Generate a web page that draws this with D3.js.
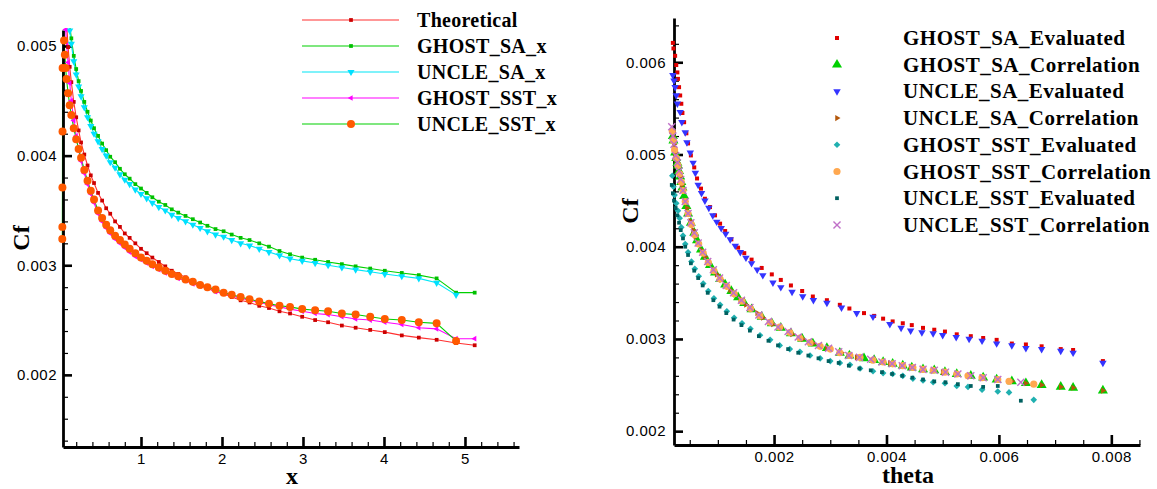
<!doctype html>
<html>
<head>
<meta charset="utf-8">
<title>Cf comparison</title>
<style>
  body { margin: 0; background: #fff; }
  .tick text { font-family: "Liberation Sans", Arial, sans-serif; font-size: 15px; letter-spacing: 0.5px; fill: #000; }
  .title { font-family: "Liberation Serif", "Times New Roman", serif; font-weight: bold; font-size: 24px; fill: #000; }
  .legend text { font-family: "Liberation Serif", "Times New Roman", serif; font-weight: bold; fill: #000; }
</style>
</head>
<body>
<svg id="chart" width="1157" height="489"></svg>
<script src="https://d3js.org/d3.v7.min.js"></script>
<script>
// ---------- left chart: Cf vs x ----------
const xStations = [
  0.04, 0.05, 0.06, 0.07, 0.08,
  0.1, 0.12, 0.14, 0.17, 0.2,
  0.23, 0.26, 0.3, 0.34, 0.38,
  0.42, 0.47, 0.52, 0.57, 0.62,
  0.68, 0.74, 0.8, 0.86, 0.93,
  1.0, 1.07, 1.14, 1.22, 1.3,
  1.38, 1.46, 1.55, 1.64, 1.73,
  1.82, 1.92, 2.02, 2.12, 2.23,
  2.34, 2.46, 2.58, 2.71, 2.84,
  2.99, 3.15, 3.31, 3.48, 3.65,
  3.83, 4.01, 4.22, 4.43, 4.65,
  4.89, 5.12];

const cfTheory = [
  0.00600, 0.00574, 0.00553, 0.00536, 0.00522,
  0.00499, 0.00481, 0.00467, 0.00449, 0.00435,
  0.00423, 0.00412, 0.00401, 0.00391, 0.00382,
  0.00375, 0.00366, 0.00359, 0.00352, 0.00347,
  0.00340, 0.00335, 0.00329, 0.00325, 0.00320,
  0.00315, 0.00311, 0.00307, 0.00303, 0.00299,
  0.00295, 0.00292, 0.00289, 0.00285, 0.00282,
  0.00279, 0.00276, 0.00274, 0.00271, 0.00268,
  0.00266, 0.00263, 0.00261, 0.00258, 0.00256,
  0.00253, 0.00250, 0.00248, 0.00245, 0.00243,
  0.00241, 0.00239, 0.00236, 0.00234, 0.00232,
  0.00229, 0.00227];

const cfGhostSA = [
  null, null, null, null, null,
  0.00530, 0.00519, 0.00507, 0.00491, 0.00479,
  0.00468, 0.00459, 0.00449, 0.00440, 0.00432,
  0.00425, 0.00418, 0.00411, 0.00405, 0.00399,
  0.00394, 0.00388, 0.00383, 0.00379, 0.00374,
  0.00370, 0.00366, 0.00362, 0.00358, 0.00355,
  0.00351, 0.00348, 0.00345, 0.00342, 0.00339,
  0.00336, 0.00333, 0.00331, 0.00328, 0.00325,
  0.00323, 0.00320, 0.00317, 0.00313, 0.00310,
  0.00307, 0.00305, 0.00303, 0.00301, 0.00299,
  0.00297, 0.00295, 0.00293, 0.00291, 0.00288,
  0.00275, 0.00275];

const cfUncleSA = [
  null, null, null, null, null,
  0.00522, 0.00514, 0.00502, 0.00486, 0.00474,
  0.00463, 0.00454, 0.00444, 0.00435, 0.00427,
  0.00420, 0.00413, 0.00406, 0.00400, 0.00394,
  0.00389, 0.00383, 0.00378, 0.00374, 0.00369,
  0.00365, 0.00361, 0.00357, 0.00353, 0.00350,
  0.00346, 0.00343, 0.00340, 0.00337, 0.00334,
  0.00331, 0.00328, 0.00326, 0.00323, 0.00320,
  0.00318, 0.00315, 0.00312, 0.00309, 0.00306,
  0.00304, 0.00302, 0.00300, 0.00298, 0.00296,
  0.00294, 0.00292, 0.00290, 0.00288, 0.00284,
  0.00273, null];

const cfGhostSST = [
  0.00560, 0.00545, 0.00530, 0.00515, 0.00503,
  0.00485, 0.00466, 0.00450, 0.00432, 0.00418,
  0.00405, 0.00395, 0.00384, 0.00374, 0.00365,
  0.00357, 0.00347, 0.00340, 0.00334, 0.00329,
  0.00324, 0.00320, 0.00316, 0.00312, 0.00308,
  0.00305, 0.00302, 0.00299, 0.00296, 0.00293,
  0.00291, 0.00288, 0.00286, 0.00283, 0.00281,
  0.00279, 0.00276, 0.00274, 0.00272, 0.00270,
  0.00268, 0.00266, 0.00264, 0.00262, 0.00260,
  0.00258, 0.00256, 0.00255, 0.00253, 0.00251,
  0.00250, 0.00248, 0.00246, 0.00243, 0.00242,
  0.00233, 0.00233];

// UNCLE SST has a few leading-edge points sitting on the axis
const xUncleSST = [
  0.028, 0.029, 0.030, 0.031, 0.032,
  0.05, 0.06, 0.07, 0.08, 0.1,
  0.12, 0.14, 0.17, 0.2, 0.23,
  0.26, 0.3, 0.34, 0.38, 0.42,
  0.47, 0.52, 0.57, 0.62, 0.68,
  0.74, 0.8, 0.86, 0.93, 1.0,
  1.07, 1.14, 1.22, 1.3, 1.38,
  1.46, 1.55, 1.64, 1.73, 1.82,
  1.92, 2.02, 2.12, 2.23, 2.34,
  2.46, 2.58, 2.71, 2.84, 2.99,
  3.15, 3.31, 3.48, 3.65, 3.83,
  4.01, 4.22, 4.43, 4.65, 4.89];
const cfUncleSST = [
  0.00324, 0.00335, 0.00371, 0.00422, 0.00480,
  0.00505, 0.00492, 0.00480, 0.00470, 0.00457,
  0.00446, 0.00437, 0.00425, 0.00415, 0.00406,
  0.00398, 0.00387, 0.00377, 0.00368, 0.00360,
  0.00350, 0.00343, 0.00337, 0.00332, 0.00327,
  0.00323, 0.00319, 0.00315, 0.00311, 0.00307,
  0.00304, 0.00301, 0.00298, 0.00295, 0.00292,
  0.00290, 0.00287, 0.00285, 0.00282, 0.00280,
  0.00278, 0.00275, 0.00273, 0.00271, 0.00269,
  0.00267, 0.00265, 0.00263, 0.00262, 0.00260,
  0.00259, 0.00258, 0.00256, 0.00255, 0.00253,
  0.00251, 0.00250, 0.00248, 0.00247, 0.00231];

const leftNames = ['Theoretical', 'GHOST_SA_x', 'UNCLE_SA_x', 'GHOST_SST_x', 'UNCLE_SST_x'];

// ---------- right chart: Cf vs theta ----------
const thetaGhostSA = [
  0.00020, 0.00021, 0.00024, 0.00026, 0.00028, 0.00029, 0.00031, 0.00033, 0.00035, 0.00037,
  0.00040, 0.00044, 0.00047, 0.00052, 0.00058, 0.00063, 0.00070, 0.00077, 0.00086, 0.00095,
  0.00104, 0.00113, 0.00124, 0.00136, 0.00147, 0.00160, 0.00178, 0.00196, 0.00212, 0.00230,
  0.00250, 0.00269, 0.00294, 0.00317, 0.00334, 0.00360, 0.00378, 0.00394, 0.00411, 0.00429,
  0.00445, 0.00465, 0.00485, 0.00504, 0.00525, 0.00550, 0.00572, 0.00596, 0.00623, 0.00648,
  0.00676, 0.00710, 0.00732, 0.00785];
const cfGhostSAEval = [
  0.00621, 0.00615, 0.00607, 0.00597, 0.00589, 0.00582, 0.00573, 0.00564, 0.00555, 0.00545,
  0.00535, 0.00523, 0.00512, 0.00499, 0.00486, 0.00474, 0.00463, 0.00452, 0.00443, 0.00434,
  0.00425, 0.00417, 0.00408, 0.00399, 0.00393, 0.00386, 0.00377, 0.00370, 0.00364, 0.00358,
  0.00352, 0.00346, 0.00342, 0.00337, 0.00333, 0.00328, 0.00325, 0.00322, 0.00319, 0.00317,
  0.00315, 0.00312, 0.00310, 0.00308, 0.00305, 0.00303, 0.00301, 0.00299, 0.00295, 0.00294,
  0.00292, 0.00289, 0.00288, 0.00276];
const cfGhostSACorr = [
  0.00520, 0.00515, 0.00502, 0.00496, 0.00491, 0.00488, 0.00482, 0.00476, 0.00470, 0.00464,
  0.00455, 0.00444, 0.00436, 0.00426, 0.00415, 0.00407, 0.00397, 0.00389, 0.00380, 0.00372,
  0.00365, 0.00359, 0.00352, 0.00345, 0.00339, 0.00332, 0.00324, 0.00317, 0.00312, 0.00306,
  0.00300, 0.00295, 0.00290, 0.00285, 0.00282, 0.00279, 0.00277, 0.00275, 0.00273, 0.00271,
  0.00269, 0.00267, 0.00266, 0.00264, 0.00262, 0.00260, 0.00258, 0.00256, 0.00254, 0.00252,
  0.00250, 0.00248, 0.00247, 0.00244];

const thetaUncleSA = [
  0.00020, 0.00022, 0.00024, 0.00026, 0.00028, 0.00033, 0.00036, 0.00042, 0.00045, 0.00051,
  0.00056, 0.00060, 0.00065, 0.00071, 0.00077, 0.00084, 0.00091, 0.00098, 0.00106, 0.00114,
  0.00122, 0.00131, 0.00140, 0.00150, 0.00160, 0.00170, 0.00180, 0.00198, 0.00212, 0.00232,
  0.00251, 0.00270, 0.00294, 0.00320, 0.00347, 0.00376, 0.00406, 0.00426, 0.00443, 0.00463,
  0.00483, 0.00500, 0.00524, 0.00547, 0.00570, 0.00596, 0.00623, 0.00648, 0.00676, 0.00710,
  0.00732, 0.00785];
const cfUncleSAEval = [
  0.00586, 0.00580, 0.00573, 0.00564, 0.00555, 0.00546, 0.00535, 0.00524, 0.00513, 0.00502,
  0.00491, 0.00480, 0.00467, 0.00458, 0.00450, 0.00442, 0.00434, 0.00427, 0.00420, 0.00414,
  0.00408, 0.00401, 0.00394, 0.00388, 0.00382, 0.00375, 0.00369, 0.00361, 0.00356, 0.00351,
  0.00346, 0.00342, 0.00339, 0.00334, 0.00328, 0.00324, 0.00316, 0.00312, 0.00309, 0.00307,
  0.00306, 0.00304, 0.00302, 0.00300, 0.00298, 0.00295, 0.00293, 0.00290, 0.00289, 0.00287,
  0.00285, 0.00274];
const cfUncleSACorr = [
  0.00520, 0.00511, 0.00502, 0.00496, 0.00491, 0.00476, 0.00467, 0.00449, 0.00442, 0.00428,
  0.00418, 0.00411, 0.00404, 0.00396, 0.00389, 0.00382, 0.00375, 0.00370, 0.00364, 0.00358,
  0.00353, 0.00348, 0.00343, 0.00337, 0.00332, 0.00328, 0.00323, 0.00316, 0.00312, 0.00305,
  0.00300, 0.00295, 0.00290, 0.00285, 0.00280, 0.00277, 0.00274, 0.00271, 0.00269, 0.00268,
  0.00266, 0.00264, 0.00262, 0.00260, 0.00258, 0.00256, 0.00254, 0.00252, 0.00250, 0.00248,
  0.00247, 0.00244];

const thetaGhostSST = [
  0.00019, 0.00021, 0.00023, 0.00026, 0.00029, 0.00032, 0.00035, 0.00038, 0.00042, 0.00047,
  0.00053, 0.00059, 0.00066, 0.00074, 0.00083, 0.00093, 0.00104, 0.00116, 0.00129, 0.00143,
  0.00158, 0.00175, 0.00193, 0.00210, 0.00228, 0.00246, 0.00264, 0.00282, 0.00300, 0.00317,
  0.00335, 0.00353, 0.00376, 0.00394, 0.00411, 0.00429, 0.00447, 0.00465, 0.00483, 0.00504,
  0.00525, 0.00545, 0.00570, 0.00598, 0.00618, 0.00662];
const cfGhostSSTEval = [
  0.00477, 0.00465, 0.00456, 0.00447, 0.00439, 0.00431, 0.00421, 0.00412, 0.00403, 0.00394,
  0.00384, 0.00376, 0.00368, 0.00360, 0.00352, 0.00344, 0.00337, 0.00330, 0.00323, 0.00317,
  0.00311, 0.00304, 0.00299, 0.00293, 0.00289, 0.00286, 0.00282, 0.00279, 0.00276, 0.00274,
  0.00272, 0.00268, 0.00265, 0.00263, 0.00262, 0.00260, 0.00257, 0.00255, 0.00253, 0.00252,
  0.00249, 0.00248, 0.00245, 0.00243, 0.00242, 0.00234];
const cfGhostSSTCorr = [
  0.00525, 0.00515, 0.00505, 0.00496, 0.00488, 0.00479, 0.00470, 0.00461, 0.00449, 0.00436,
  0.00424, 0.00413, 0.00403, 0.00393, 0.00383, 0.00374, 0.00365, 0.00357, 0.00349, 0.00341,
  0.00333, 0.00325, 0.00318, 0.00313, 0.00307, 0.00301, 0.00296, 0.00292, 0.00289, 0.00285,
  0.00282, 0.00280, 0.00277, 0.00275, 0.00273, 0.00271, 0.00269, 0.00267, 0.00266, 0.00264,
  0.00262, 0.00260, 0.00258, 0.00256, 0.00254, 0.00251];

const thetaUncleSST = [
  0.00018, 0.00020, 0.00022, 0.00025, 0.00028, 0.00031, 0.00034, 0.00038, 0.00042, 0.00047,
  0.00052, 0.00058, 0.00065, 0.00073, 0.00082, 0.00092, 0.00103, 0.00115, 0.00128, 0.00142,
  0.00157, 0.00173, 0.00190, 0.00207, 0.00225, 0.00243, 0.00261, 0.00279, 0.00297, 0.00315,
  0.00333, 0.00352, 0.00372, 0.00392, 0.00410, 0.00428, 0.00446, 0.00465, 0.00485, 0.00505,
  0.00527, 0.00550, 0.00572, 0.00598, 0.00639];
const cfUncleSSTEval = [
  0.00467, 0.00458, 0.00450, 0.00442, 0.00434, 0.00426, 0.00418, 0.00409, 0.00400, 0.00391,
  0.00382, 0.00374, 0.00366, 0.00358, 0.00350, 0.00342, 0.00335, 0.00328, 0.00321, 0.00315,
  0.00309, 0.00303, 0.00298, 0.00293, 0.00289, 0.00285, 0.00282, 0.00279, 0.00276, 0.00274,
  0.00271, 0.00268, 0.00266, 0.00264, 0.00262, 0.00260, 0.00258, 0.00256, 0.00254, 0.00253,
  0.00251, 0.00249, 0.00248, 0.00249, 0.00233];
const cfUncleSSTCorr = [
  0.00530, 0.00520, 0.00511, 0.00499, 0.00491, 0.00482, 0.00473, 0.00461, 0.00449, 0.00436,
  0.00426, 0.00415, 0.00404, 0.00394, 0.00384, 0.00375, 0.00366, 0.00358, 0.00350, 0.00342,
  0.00334, 0.00326, 0.00319, 0.00313, 0.00308, 0.00302, 0.00297, 0.00293, 0.00290, 0.00286,
  0.00282, 0.00280, 0.00278, 0.00275, 0.00273, 0.00271, 0.00269, 0.00267, 0.00266, 0.00264,
  0.00262, 0.00260, 0.00258, 0.00256, 0.00253];

const rightNames = [
  'GHOST_SA_Evaluated', 'GHOST_SA_Correlation', 'UNCLE_SA_Evaluated', 'UNCLE_SA_Correlation',
  'GHOST_SST_Evaluated', 'GHOST_SST_Correlation', 'UNCLE_SST_Evaluated', 'UNCLE_SST_Correlation'];

// ---------- drawing ----------
const svg = d3.select('#chart');

const xL = d3.scaleLinear().domain([0.037, 5.667]).range([63, 519]);
const yL = d3.scaleLinear().domain([0.001342, 0.005146]).range([447, 30]);
const xR = d3.scaleLinear().domain([0.00022, 0.00851]).range([674, 1140]);
const yR = d3.scaleLinear().domain([0.00185, 0.00648]).range([445, 18]);

const X_SYMBOL = d3.symbolX || d3.symbolCross;

// marker look of each series (type, area, rotation, colour)
const leftStyles = [
  { line: '#ff3030', color: '#cc0000', type: d3.symbolSquare, size: 14, rot: 0 },
  { line: '#00d000', color: '#00c000', type: d3.symbolSquare, size: 14, rot: 0 },
  { line: '#00e6f6', color: '#00e0ff', type: d3.symbolTriangle, size: 22, rot: 180 },
  { line: '#ff00ff', color: '#ff00ff', type: d3.symbolTriangle, size: 14, rot: -90 },
  { line: '#00d000', color: '#ff5a00', type: d3.symbolCircle, size: 50, rot: 0 },
];
const rightStyles = [
  { color: '#e00000', type: d3.symbolSquare, size: 16, rot: 0 },
  { color: '#00d000', type: d3.symbolTriangle, size: 44, rot: 0 },
  { color: '#3434ff', type: d3.symbolTriangle, size: 24, rot: 180 },
  { color: '#b4580c', type: d3.symbolTriangle, size: 16, rot: 90 },
  { color: '#20b0b0', type: d3.symbolSquare, size: 22, rot: 45 },
  { color: '#ffa850', type: d3.symbolCircle, size: 40, rot: 0 },
  { color: '#006060', type: d3.symbolSquare, size: 14, rot: 0 },
  { color: '#c070c8', type: X_SYMBOL, size: 34, rot: 0, stroke: true },
];

function marker(sel, st) {
  sel
    .attr('d', d3.symbol().type(st.type).size(st.size))
    .attr('fill', st.stroke ? 'none' : st.color)
    .attr('stroke', st.stroke ? st.color : 'none')
    .attr('stroke-width', st.stroke ? 1.4 : 0);
}

function points(g, xs, ys, x, y, st) {
  const data = d3.zip(xs, ys).filter((d) => d[1] != null);
  g.append('g')
    .selectAll('path')
    .data(data)
    .join('path')
    .attr('transform', (d) => `translate(${x(d[0])},${y(d[1])}) rotate(${st.rot})`)
    .call(marker, st);
}

function axes(x, y, xMajor, xMinor, yMajor, yMinor, fmtX, fmtY, yPad) {
  const y0 = y.range()[0];
  const x0 = x.range()[0];
  const g = svg.append('g');
  // minor ticks first
  g.append('g').attr('transform', `translate(0,${y0})`)
    .call(d3.axisBottom(x).tickValues(xMinor).tickSize(-5).tickFormat(''))
    .call((a) => a.select('.domain').remove());
  g.append('g').attr('transform', `translate(${x0},0)`)
    .call(d3.axisLeft(y).tickValues(yMinor).tickSize(-5).tickFormat(''))
    .call((a) => a.select('.domain').remove());
  g.selectAll('.tick line').attr('stroke', '#000').attr('stroke-width', 1.2);

  const bx = g.append('g').attr('transform', `translate(0,${y0})`)
    .call(d3.axisBottom(x).tickValues(xMajor).tickSize(-10).tickSizeOuter(0)
      .tickPadding(6).tickFormat(fmtX));
  const ly = g.append('g').attr('transform', `translate(${x0},0)`)
    .call(d3.axisLeft(y).tickValues(yMajor).tickSize(-9).tickSizeOuter(0)
      .tickPadding(yPad).tickFormat(fmtY));
  [bx, ly].forEach((a) => {
    a.attr('font-family', null).attr('font-size', null);
    a.selectAll('.tick line').attr('stroke', '#000').attr('stroke-width', 2.6);
    a.select('.domain').attr('stroke', '#000').attr('stroke-width', 2.8);
  });
  return g;
}

// clip areas for the two plots
const defs = svg.append('defs');
defs.append('clipPath').attr('id', 'clipL')
  .append('rect').attr('x', 55).attr('y', 28).attr('width', 480).attr('height', 425);
defs.append('clipPath').attr('id', 'clipR')
  .append('rect').attr('x', 664).attr('y', 14).attr('width', 490).attr('height', 436);

// ---- left plot ----
const leftX = [xStations, xStations, xStations, xStations, xUncleSST];
const leftY = [cfTheory, cfGhostSA, cfUncleSA, cfGhostSST, cfUncleSST];

const linesL = svg.append('g').attr('clip-path', 'url(#clipL)');
leftY.forEach((ys, i) => {
  const data = d3.zip(leftX[i], ys);
  linesL.append('path')
    .datum(data)
    .attr('fill', 'none')
    .attr('stroke', leftStyles[i].line)
    .attr('stroke-width', 1.1)
    .attr('d', d3.line().defined((d) => d[1] != null).x((d) => xL(d[0])).y((d) => yL(d[1])));
});

axes(xL, yL, [1, 2, 3, 4, 5], d3.range(0.2, 5.61, 0.2).filter((v) => Math.abs(v - Math.round(v)) > 0.01),
  [0.002, 0.003, 0.004, 0.005], d3.range(0.0014, 0.00501, 0.0002).filter((v) => Math.abs(v * 1000 - Math.round(v * 1000)) > 0.01),
  d3.format('d'), d3.format('.3f'), 6);

const markL = svg.append('g').attr('clip-path', 'url(#clipL)');
leftY.forEach((ys, i) => points(markL, leftX[i], ys, xL, yL, leftStyles[i]));

// ---- right plot ----
axes(xR, yR, [0.002, 0.004, 0.006, 0.008], d3.range(0.0005, 0.00851, 0.0005).filter((v) => Math.abs(v * 500 - Math.round(v * 500)) > 0.01),
  [0.002, 0.003, 0.004, 0.005, 0.006], d3.range(0.0020, 0.00641, 0.0002).filter((v) => Math.abs(v * 1000 - Math.round(v * 1000)) > 0.01),
  d3.format('.3f'), d3.format('.3f'), 8);

const rightX = [thetaGhostSA, thetaGhostSA, thetaUncleSA, thetaUncleSA,
  thetaGhostSST, thetaGhostSST, thetaUncleSST, thetaUncleSST];
const rightY = [cfGhostSAEval, cfGhostSACorr, cfUncleSAEval, cfUncleSACorr,
  cfGhostSSTEval, cfGhostSSTCorr, cfUncleSSTEval, cfUncleSSTCorr];
const markR = svg.append('g').attr('clip-path', 'url(#clipR)');
rightY.forEach((ys, i) => points(markR, rightX[i], ys, xR, yR, rightStyles[i]));

// ---- axis titles ----
svg.append('text').attr('class', 'title').attr('text-anchor', 'middle')
  .attr('transform', 'translate(29,238) rotate(-90)').text('Cf');
svg.append('text').attr('class', 'title').attr('text-anchor', 'middle')
  .attr('x', 292).attr('y', 484).text('x');
svg.append('text').attr('class', 'title').attr('text-anchor', 'middle')
  .attr('transform', 'translate(638,211) rotate(-90)').text('Cf');
svg.append('text').attr('class', 'title').attr('text-anchor', 'middle')
  .attr('x', 908).attr('y', 483).text('theta');

// ---- legends ----
const legL = svg.append('g').attr('class', 'legend');
leftNames.forEach((name, i) => {
  const cy = 20 + i * 26;
  legL.append('line').attr('x1', 302).attr('x2', 399).attr('y1', cy).attr('y2', cy)
    .attr('stroke', leftStyles[i].line).attr('stroke-width', 1.1);
  legL.append('path').attr('transform', `translate(351,${cy}) rotate(${leftStyles[i].rot})`)
    .call(marker, leftStyles[i]);
  legL.append('text').attr('x', 417).attr('y', cy + 7).attr('font-size', 20)
    .attr('letter-spacing', 0.3).text(name);
});

const legR = svg.append('g').attr('class', 'legend');
rightNames.forEach((name, i) => {
  const cy = 38 + i * 26.7;
  legR.append('path').attr('transform', `translate(837,${cy}) rotate(${rightStyles[i].rot})`)
    .call(marker, rightStyles[i]);
  legR.append('text').attr('x', 903).attr('y', cy + 7).attr('font-size', 21)
    .attr('letter-spacing', 0.5).text(name);
});
</script>
</body>
</html>
